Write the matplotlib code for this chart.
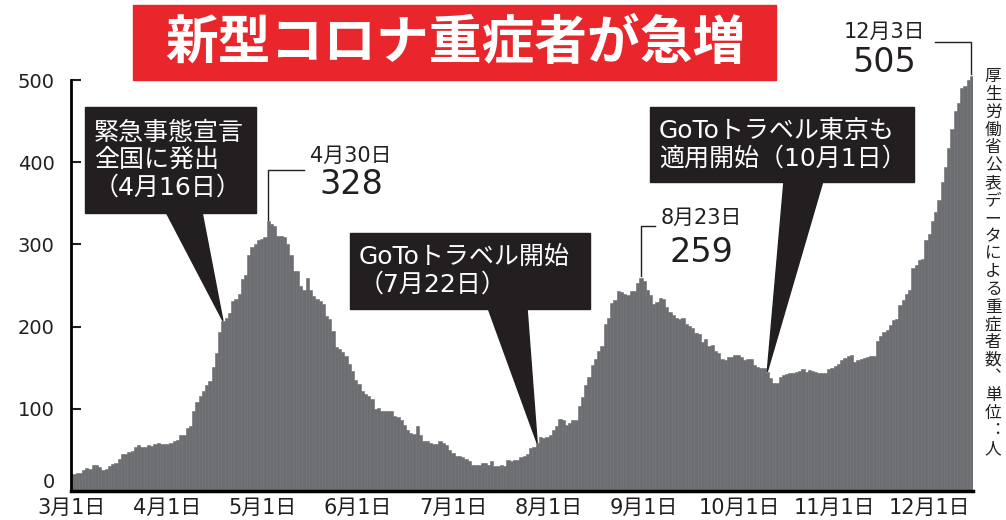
import numpy as np
import matplotlib.pyplot as plt
import matplotlib.transforms as mtransforms
from matplotlib.patches import Rectangle, Polygon
from matplotlib.lines import Line2D

plt.rcParams['font.family'] = ['DejaVu Sans', 'Noto Sans CJK JP']

# daily number of severe COVID-19 patients, 2020-03-01 .. 2020-12-03
severe = [
    21, 22, 22, 25, 28, 27, 32, 32, 29, 25, 27, 30, 33, 34, 39, 45, 45, 48, 49, 53,
    56, 53, 54, 56, 55, 57, 58, 57, 57, 57, 59, 61, 62, 68, 68, 77, 79, 97, 108, 116,
    122, 129, 134, 151, 168, 193, 207, 211, 216, 231, 233, 240, 258, 263, 287, 297, 301, 305, 307, 309,
    328, 325, 322, 310, 310, 309, 301, 287, 268, 268, 249, 244, 259, 245, 237, 233, 231, 227, 213, 209,
    195, 175, 173, 169, 164, 154, 146, 135, 130, 122, 118, 115, 112, 100, 101, 97, 97, 97, 97, 91,
    90, 86, 80, 74, 71, 69, 79, 68, 61, 61, 59, 57, 57, 61, 59, 56, 50, 46, 43, 42,
    41, 39, 36, 32, 32, 32, 34, 34, 32, 36, 30, 31, 32, 31, 38, 36, 38, 38, 41, 43,
    45, 52, 54, 58, 66, 64, 66, 68, 74, 79, 88, 86, 80, 83, 86, 86, 103, 114, 129, 139,
    153, 161, 170, 176, 203, 210, 229, 232, 243, 242, 240, 238, 243, 243, 253, 259, 255, 245, 238, 228,
    230, 235, 234, 224, 218, 214, 210, 209, 210, 203, 201, 198, 192, 191, 181, 185, 176, 178, 170, 168,
    160, 159, 163, 163, 165, 166, 163, 159, 161, 161, 153, 151, 150, 150, 145, 137, 132, 131, 139, 141,
    142, 143, 144, 145, 146, 148, 145, 147, 146, 145, 144, 143, 143, 149, 150, 152, 155, 159, 162, 164,
    166, 157, 159, 161, 162, 163, 164, 164, 182, 188, 193, 196, 202, 208, 209, 226, 232, 240, 245, 271,
    275, 281, 282, 305, 313, 328, 340, 354, 376, 394, 417, 441, 462, 472, 490, 493, 500, 505,
]
days = np.arange(len(severe))

month_labels = ['3月1日', '4月1日', '5月1日', '6月1日', '7月1日',
                '8月1日', '9月1日', '10月1日', '11月1日', '12月1日']
y_ticks = [0, 100, 200, 300, 400, 500]

title = '新型コロナ重症者が急増'
source_note = '厚生労働省公表データによる重症者数︑単位︓人'

# (day index, text, box [x0, y0, x1, y1] px, wedge base x px)
events = [
    (46, '緊急事態宣言\n全国に発出\n（4月16日）', (85, 107, 256, 213), (166, 202)),
    (143, 'GoToトラベル開始\n（7月22日）', (350, 233, 590, 309), (488, 527)),
    (214, 'GoToトラベル東京も\n適用開始（10月1日）', (650, 107, 914, 182), (784, 823)),
]
# (day index, date text, elbow px, label centre x px, date y px, number y px)
peaks = [
    (60, '4月30日', (268, 170, 304), 351, 156, 184),
    (175, '8月23日', (640, 226, 655), 701, 218, 252),
    (277, '12月3日', (971, 42, 935), 884, 32, 63),
]

W, H = 1006, 520
fig = plt.figure(figsize=(W / 100, H / 100), dpi=100)
ax = fig.add_axes([71.3 / W, 29 / H, 901.7 / W, 419.2 / H])


def fpx(x, y):
    return (x / W, 1 - y / H)


def data_to_fig(x, y):
    return fig.transFigure.inverted().transform(ax.transData.transform((x, y)))


bar_color = '#6d6e71'
ax.bar(days, severe, width=1.0, color=bar_color, edgecolor=bar_color, linewidth=0.4)

ax.set_xlim(-0.8, 277.5)
ax.set_ylim(0, 510)
ax.set_yticks(y_ticks)
ax.set_xticks(np.linspace(-0.6, 264.2, len(month_labels)))
ax.set_xticklabels(month_labels)

for s in ['top', 'right']:
    ax.spines[s].set_visible(False)
ax.spines['left'].set_linewidth(2)
ax.spines['left'].set_bounds(0, 500)
ax.spines['bottom'].set_linewidth(2.5)
ax.tick_params(axis='y', direction='in', length=7, width=1.5, labelsize=14, pad=12, colors='#231f20')
ax.tick_params(axis='x', length=0, labelsize=15, pad=5, colors='#231f20')

# the "0" label sits a little above the axis line
zero_label = ax.get_yticklabels()[0]
zero_label.set_transform(zero_label.get_transform() +
                         mtransforms.ScaledTranslation(0, 10 / 100, fig.dpi_scale_trans))

# title
x0, y0 = fpx(133, 80)
fig.add_artist(Rectangle((x0, y0), (776 - 133) / W, 75 / H, transform=fig.transFigure,
                         color='#e8262b', zorder=5))
fig.text(*fpx(455, 43), title, color='white', fontsize=38, fontweight='bold',
         ha='center', va='center', zorder=6, family='Noto Sans CJK JP')

# callouts
box_color = '#231f20'
for d, txt, (bx0, by0, bx1, by1), (wl, wr) in events:
    tip = data_to_fig(d, severe[d])
    fig.add_artist(Polygon([fpx(wl, by1 - 1), fpx(wr, by1 - 1), tip], closed=True,
                           transform=fig.transFigure, color=box_color, zorder=5))
    lx, ly = fpx(bx0, by1)
    fig.add_artist(Rectangle((lx, ly), (bx1 - bx0) / W, (by1 - by0) / H,
                             transform=fig.transFigure, color=box_color, zorder=5))
    fig.text(*fpx(bx0 + 9, (by0 + by1) / 2), txt, color='white', fontsize=18,
             ha='left', va='center', linespacing=1.18, zorder=6)

# peak labels
for d, date_txt, (ex, ey, hx), cx, dy, ny in peaks:
    top = data_to_fig(d, severe[d] + 2)
    e = fpx(ex, ey)
    h = fpx(hx, ey)
    fig.add_artist(Line2D([top[0], top[0], h[0]], [top[1], e[1], h[1]],
                          transform=fig.transFigure, color='#231f20', linewidth=1))
    fig.text(*fpx(cx, dy), date_txt, fontsize=15, ha='center', va='center', color='#231f20')
    fig.text(*fpx(cx, ny), str(severe[d]), fontsize=24, ha='center', va='center', color='#231f20')

# vertical source note
for k, ch in enumerate(source_note):
    fig.text(*fpx(993, 77 + k * 17.7), ch, fontsize=12, ha='center', va='center',
             color='#231f20', family=['Noto Sans CJK JP', 'DejaVu Sans'])

fig.savefig('out.png', dpi=100)
